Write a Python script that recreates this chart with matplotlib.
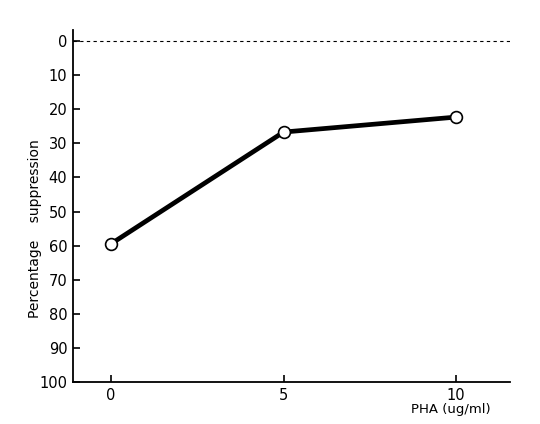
import numpy as np
import matplotlib
matplotlib.use("Agg")
import matplotlib.pyplot as plt

# data
pha_dose = [0, 5, 10]
suppression = [59.5, 26.7, 22.3]
y_ticks = list(range(0, 101, 10))
x_ticks = [0, 5, 10]

plt.rcParams['font.family'] = ['DejaVu Sans']

fig = plt.figure(figsize=(5.4, 4.24), dpi=100)
ax = fig.add_axes([0.135, 0.099, 0.809, 0.830])

ax.axhline(0, color='k', linestyle=(0, (3, 3)), linewidth=0.8)
ax.plot(pha_dose, suppression, '-', color='k', linewidth=3.4,
        marker='o', markersize=8.5, markerfacecolor='white',
        markeredgecolor='k', markeredgewidth=1.2)

ax.set_xlim(-1.1, 11.55)
ax.set_ylim(100, -3.2)
ax.set_xticks(x_ticks)
ax.set_yticks(y_ticks)
ax.set_xticklabels([str(t) for t in x_ticks], fontsize=10.5)
ax.set_yticklabels([str(t) for t in y_ticks], fontsize=10.5)
ax.tick_params(axis='both', direction='in', length=5, width=1.2, pad=4)

ax.spines['top'].set_visible(False)
ax.spines['right'].set_visible(False)
ax.spines['left'].set_linewidth(1.3)
ax.spines['bottom'].set_linewidth(1.3)

fig.text(0.835, 0.035, 'PHA (ug/ml)', ha='center', va='center', fontsize=9.5)
fig.text(0.065, 0.46, 'Percentage    suppression', rotation=90,
         ha='center', va='center', fontsize=10)

fig.savefig('out.png', dpi=100)
